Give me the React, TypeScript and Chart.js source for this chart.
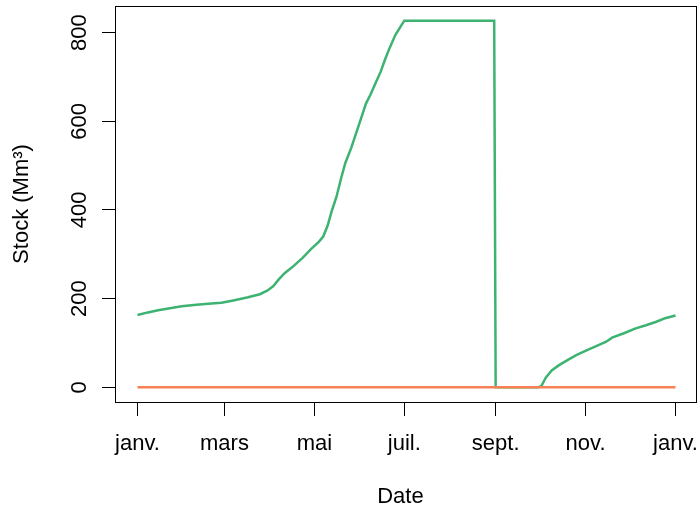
import { useEffect, useRef } from "react";
import { Chart, registerables } from "chart.js";

Chart.register(...registerables);

// Day of year (0 = 1 janv.) and stock values (Mm³)
const greenDays = [
  0, 7, 14, 21, 30, 40, 50, 57, 65, 75, 83, 88, 92, 96, 100, 106, 112, 118, 123, 126,
  129, 132, 135, 138, 141, 145, 148, 151, 155, 158, 162, 165, 168, 171, 175, 181,
  242, 243, 272, 274, 277, 281, 286, 292, 298, 305, 312, 318, 322, 330, 338, 345, 352, 358, 365,
];
const greenValues = [
  163, 169, 174, 178, 183, 186, 189, 191, 196, 203, 210, 218, 228, 244, 258, 274, 292, 313, 328, 340,
  365, 400, 430, 470, 506, 540, 570, 600, 640, 660, 690, 712, 740, 765, 795, 827,
  827, 0, 0, 3, 22, 38, 50, 62, 73, 84, 94, 103, 112, 122, 133, 140, 148, 156, 162,
];
const orangeDays = [0, 365];
const orangeValues = [0, 0];

const tickDays = [0, 59, 120, 181, 243, 304, 365];
const tickLabels = ["janv.", "mars", "mai", "juil.", "sept.", "nov.", "janv."];
const yTickValues = [0, 200, 400, 600, 800];

const FONT = { family: "'Liberation Sans', Arial, Helvetica, sans-serif", size: 22 };

const boxPlugin = {
  id: "rbox",
  afterDraw(chart: any) {
    const { ctx, chartArea: a } = chart;
    ctx.save();
    ctx.strokeStyle = "#000";
    ctx.lineWidth = 1;
    ctx.strokeRect(Math.round(a.left) - 0.5, Math.round(a.top) + 0.5, Math.round(a.right - a.left), Math.round(a.bottom - a.top));
    ctx.restore();
  },
};

export default function App() {
  const ref = useRef<HTMLCanvasElement>(null);
  useEffect(() => {
    if (!ref.current) return;
    const chart = new Chart(ref.current, {
      type: "line",
      data: {
        datasets: [
          {
            label: "orange",
            data: orangeDays.map((d, i) => ({ x: d, y: orangeValues[i] })),
            borderColor: "#F88055",
            borderWidth: 2.5,
            pointRadius: 0,
            tension: 0,
          },
          {
            label: "green",
            data: greenDays.map((d, i) => ({ x: d, y: greenValues[i] })),
            borderColor: "#3CB371",
            borderWidth: 2.5,
            pointRadius: 0,
            tension: 0,
          },
        ],
      },
      options: {
        animation: false,
        responsive: false,
        devicePixelRatio: 1,
        layout: { padding: { top: 6, right: 3, left: 0, bottom: 0 } },
        plugins: { legend: { display: false }, tooltip: { enabled: false } },
        scales: {
          x: {
            type: "linear",
            min: -14.6,
            max: 379.6,
            afterBuildTicks: (s: any) => {
              s.ticks = tickDays.map((v) => ({ value: v }));
            },
            afterFit: (s: any) => {
              s.height = 110;
              s.paddingLeft = 0;
              s.paddingRight = 0;
            },
            border: { display: false },
            grid: { drawOnChartArea: false, drawTicks: true, tickLength: 14, color: "#000", lineWidth: 1 },
            ticks: {
              autoSkip: false,
              maxRotation: 0,
              minRotation: 0,
              padding: 15,
              color: "#000",
              font: FONT,
              callback: (v: any) => {
                const i = tickDays.indexOf(Number(v));
                return i >= 0 ? tickLabels[i] : "";
              },
            },
            title: { display: true, text: "Date  ", color: "#000", font: FONT, padding: { top: 0, bottom: 2 } },
          },
          y: {
            type: "linear",
            min: -33.08,
            max: 860.08,
            afterBuildTicks: (s: any) => {
              s.ticks = yTickValues.map((v) => ({ value: v }));
            },
            afterFit: (s: any) => {
              s.width = 116;
              s.paddingTop = 0;
              s.paddingBottom = 0;
            },
            border: { display: false },
            grid: { drawOnChartArea: false, drawTicks: true, tickLength: 14, color: "#000", lineWidth: 1 },
            ticks: {
              autoSkip: false,
              minRotation: 90,
              maxRotation: 90,
              crossAlign: "center",
              padding: 4.2,
              color: "#000",
              font: FONT,
              callback: (v: any) => String(v),
            },
            title: { display: true, text: "Stock (Mm³)", color: "#000", font: FONT, padding: { top: 8.8, bottom: 0 } },
          },
        },
      },
      plugins: [boxPlugin],
    } as any);
    return () => chart.destroy();
  }, []);
  return (
    <div style={{ position: "absolute", left: 0, top: 0, width: 700, height: 512, background: "#fff" }}>
      <canvas ref={ref} width={700} height={512} style={{ display: "block" }} />
    </div>
  );
}
